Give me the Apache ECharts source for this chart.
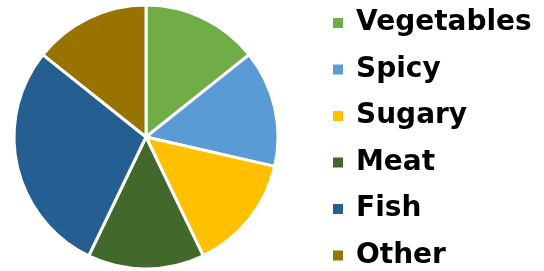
<!DOCTYPE html>
<html>
<head>
<meta charset="utf-8">
<script src="https://cdn.jsdelivr.net/npm/echarts@6/dist/echarts.min.js"></script>
<style>
  html, body { margin: 0; padding: 0; background: #fff; }
  #chart { width: 544px; height: 271px; }
</style>
</head>
<body>
<div id="chart"></div>
<script>
// 饼图数据
const categories = ["Vegetables", "Spicy", "Sugary", "Meat", "Fish", "Other"];
const values = [1, 1, 1, 1, 2, 1];
const colors = ["#70AD47", "#5B9BD5", "#FFC000", "#43682B", "#255E91", "#997300"];

const chart = echarts.init(document.getElementById("chart"));

const seriesData = categories.map((name, i) => ({
  name: name,
  value: values[i],
  itemStyle: { color: colors[i] },
}));

chart.setOption({
  animation: false,
  legend: {
    orient: "vertical",
    left: 331,
    top: 9,
    padding: 0,
    icon: "rect",
    itemWidth: 12,
    itemHeight: 12,
    itemGap: 18.5,
    data: categories,
    textStyle: {
      color: "#000",
      fontFamily: "DejaVu Sans",
      fontWeight: "bold",
      fontSize: 28,
      lineHeight: 28,
      padding: [0, 0, 0, 7],
    },
  },
  series: [
    {
      type: "pie",
      center: [146, 137],
      radius: 132,
      startAngle: 90,
      clockwise: true,
      label: { show: false },
      labelLine: { show: false },
      itemStyle: { borderColor: "#fff", borderWidth: 3 },
      data: seriesData,
    },
  ],
});
</script>
</body>
</html>
